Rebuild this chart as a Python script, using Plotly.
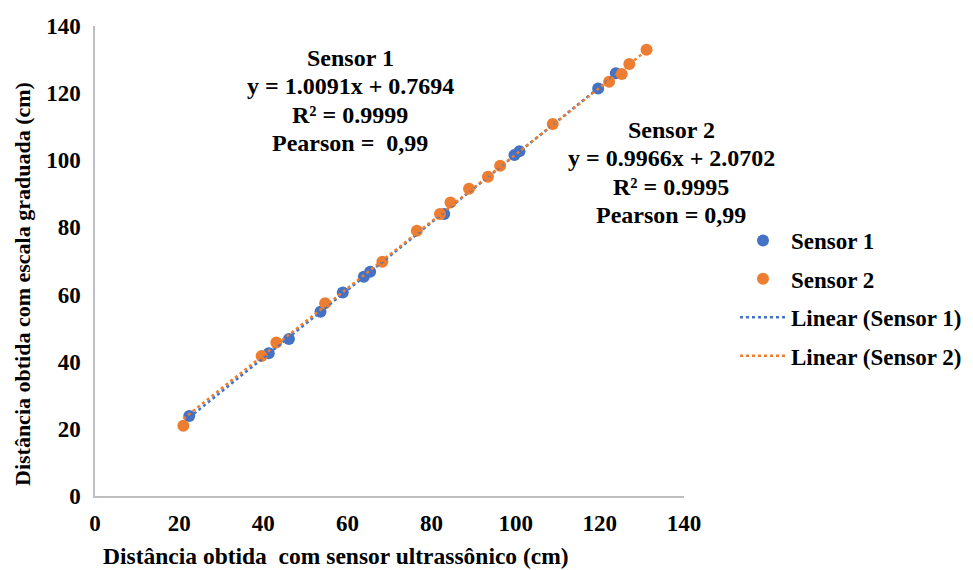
import plotly.graph_objects as go

# Sensor 1 data (x: ultrasonic sensor, y: graduated scale), cm
s1_x = [22.4, 41.3, 46.1, 53.6, 58.9, 63.9, 65.4, 83.0, 99.7, 100.9, 119.6, 123.8]
s1_y = [23.8, 42.5, 46.8, 54.9, 60.6, 65.3, 66.8, 84.0, 101.6, 102.7, 121.4, 125.9]

# Sensor 2 data
s2_x = [21.0, 39.6, 43.1, 54.7, 68.3, 76.5, 82.0, 84.5, 88.9, 93.4, 96.3, 108.8, 122.2, 125.2, 127.0, 131.1]
s2_y = [20.9, 41.7, 45.7, 57.4, 69.8, 79.0, 84.0, 87.4, 91.5, 95.1, 98.4, 110.8, 123.4, 125.7, 128.7, 132.9]

# Trendline coefficients (slope, intercept)
s1_fit = (1.0091, 0.7694)
s2_fit = (0.9966, 2.0702)

ticks = [0, 20, 40, 60, 80, 100, 120, 140]

s1_label = ["Sensor 1", "y = 1.0091x + 0.7694", "R² = 0.9999", "Pearson =  0,99"]
s2_label = ["Sensor 2", "y = 0.9966x + 2.0702", "R² = 0.9995", "Pearson = 0,99"]

BLUE = "#4472C4"
ORANGE = "#ED7D31"
FONT = "Liberation Serif"

def trend(xs, fit):
    lo, hi = min(xs), max(xs)
    return [lo, hi], [fit[0] * lo + fit[1], fit[0] * hi + fit[1]]

def fnt(size):
    return dict(family=FONT, size=size, color="black", weight="bold")

fig = go.Figure()
fig.add_trace(go.Scatter(x=s1_x, y=s1_y, mode="markers", name="Sensor 1",
                         marker=dict(color=BLUE, size=12), legendgroup="a"))
fig.add_trace(go.Scatter(x=s2_x, y=s2_y, mode="markers", name="Sensor 2",
                         marker=dict(color=ORANGE, size=12), legendgroup="b"))
tx, ty = trend(s1_x, s1_fit)
fig.add_trace(go.Scatter(x=tx, y=ty, mode="lines", name="Linear (Sensor 1)",
                         line=dict(color=BLUE, width=2.5, dash="dot"), legendgroup="c"))
tx, ty = trend(s2_x, s2_fit)
fig.add_trace(go.Scatter(x=tx, y=ty, mode="lines", name="Linear (Sensor 2)",
                         line=dict(color=ORANGE, width=2.5, dash="dot"), legendgroup="d"))

OFF = 8  # browser body margin
W, H = 965, 562
L, R, T, B = 95 - OFF, 289, 26 - OFF, 74
pw, ph = W - L - R, H - T - B

def px(x):
    return (x - OFF - L) / pw

def py(y):
    return 1 - (y - OFF - T) / ph

ann_objs = []
for i, t in enumerate(s1_label):
    ann_objs.append(dict(text=t, xref="paper", yref="paper", x=px(350), y=py(58 + 28.3 * i),
                         showarrow=False, xanchor="center", yanchor="middle", font=fnt(24)))
for i, t in enumerate(s2_label):
    ann_objs.append(dict(text=t, xref="paper", yref="paper", x=px(671), y=py(130 + 28.3 * i),
                         showarrow=False, xanchor="center", yanchor="middle", font=fnt(24)))

ann_objs.append(dict(text="Distância obtida  com sensor ultrassônico (cm)", xref="paper", yref="paper",
                     x=px(336), y=py(556), showarrow=False,
                     xanchor="center", yanchor="middle", font=fnt(23.5)))
ann_objs.append(dict(text="Distância obtida com escala graduada (cm)", xref="paper", yref="paper",
                     x=px(22), y=py(284), showarrow=False, textangle=-90,
                     xanchor="center", yanchor="middle", font=fnt(22)))

fig.update_layout(
    width=W, height=H,
    margin=dict(l=L, r=R, t=T, b=B, autoexpand=False),
    plot_bgcolor="white", paper_bgcolor="white",
    font=fnt(22),
    xaxis=dict(range=[0, 140], tickvals=ticks, showgrid=False, zeroline=False,
               showline=True, linecolor="#BFBFBF", linewidth=1.5, ticks="",
               tickfont=fnt(23), ticklabelstandoff=6),
    yaxis=dict(range=[0, 140], tickvals=ticks, showgrid=False, zeroline=False,
               showline=True, linecolor="#BFBFBF", linewidth=1.5, ticks="",
               tickfont=fnt(23), ticklabelstandoff=8),
    legend=dict(x=px(735), y=py(219), xanchor="left", yanchor="top",
                font=fnt(23), itemwidth=46,
                tracegroupgap=5.5, bgcolor="rgba(0,0,0,0)"),
    annotations=ann_objs,
    showlegend=True,
)

fig.write_html("out.html")
